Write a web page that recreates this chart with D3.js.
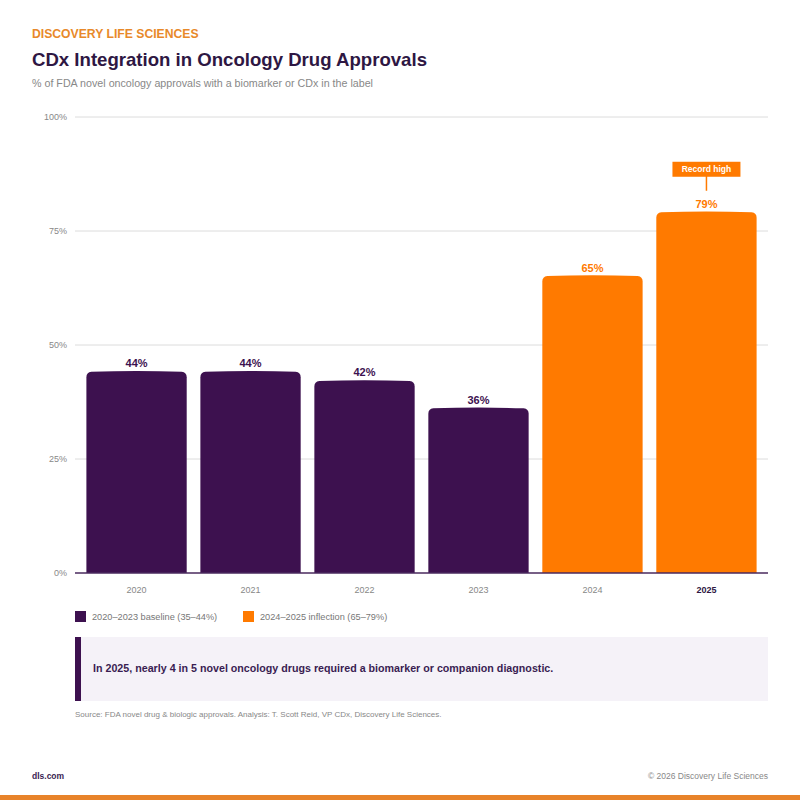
<!DOCTYPE html>
<html>
<head>
<meta charset="utf-8">
<script src="https://cdn.jsdelivr.net/npm/d3@7"></script>
<style>
  body { margin: 0; background: #fff; }
  svg { font-family: "Liberation Sans", Arial, sans-serif; display: block; }
</style>
</head>
<body>
<div id="chart"></div>
<script>
// data
var years = ["2020", "2021", "2022", "2023", "2024", "2025"];
var shares = [44, 44, 42, 36, 65, 79];
var phase = ["baseline", "baseline", "baseline", "baseline", "inflection", "inflection"];
var yTicks = [0, 25, 50, 75, 100];
var legendLabels = ["2020\u20132023 baseline (35\u201344%)", "2024\u20132025 inflection (65\u201379%)"];

var purple = "#3d114f", orange = "#ff7a00";

var W = 800, H = 800;
var svg = d3.select("#chart").append("svg")
    .attr("width", W).attr("height", H);

// header
svg.append("text").attr("x", 32).attr("y", 38)
    .attr("fill", "#e8892a").attr("font-weight", "bold").attr("font-size", 12.2)
    .text("DISCOVERY LIFE SCIENCES");
svg.append("text").attr("x", 32).attr("y", 66)
    .attr("fill", "#2e1743").attr("font-weight", "bold").attr("font-size", 18.6)
    .text("CDx Integration in Oncology Drug Approvals");
svg.append("text").attr("x", 32).attr("y", 87)
    .attr("fill", "#888").attr("font-size", 10.7)
    .text("% of FDA novel oncology approvals with a biomarker or CDx in the label");

// scales
var mLeft = 75, mRight = 768, mTop = 117, mBottom = 573;
var x = d3.scaleBand().domain(years).range([mLeft, mRight])
    .paddingInner(0.12).paddingOuter(0.1);
var y = d3.scaleLinear().domain([0, 100]).range([mBottom, mTop]);
var color = d3.scaleOrdinal().domain(["baseline", "inflection"]).range([purple, orange]);

// gridlines + y labels
var g = svg.append("g");
g.selectAll(".grid").data(yTicks.filter(function (d) { return d > 0; }))
    .enter().append("line")
    .attr("x1", mLeft).attr("x2", mRight)
    .attr("y1", function (d) { return y(d); }).attr("y2", function (d) { return y(d); })
    .attr("stroke", "#dcdcdc").attr("stroke-width", 1);
g.selectAll(".ylab").data(yTicks).enter().append("text")
    .attr("x", 67).attr("y", function (d) { return y(d) + 3; })
    .attr("text-anchor", "end").attr("font-size", 9).attr("fill", "#888")
    .text(function (d) { return d + "%"; });

// bars with rounded tops
var r = 5;
function barPath(d, i) {
    var x0 = x(years[i]), w = x.bandwidth(), y0 = y(d), yb = y(0);
    return "M" + x0 + "," + yb + "V" + (y0 + r) +
        "Q" + x0 + "," + y0 + " " + (x0 + r) + "," + (y0 - 0.5) +
        "Q" + (x0 + w / 2) + "," + (y0 - 2) + " " + (x0 + w - r) + "," + (y0 - 0.5) +
        "Q" + (x0 + w) + "," + y0 + " " + (x0 + w) + "," + (y0 + r) +
        "V" + yb + "Z";
}
g.selectAll(".bar").data(shares).enter().append("path")
    .attr("d", barPath)
    .attr("fill", function (d, i) { return color(phase[i]); });

// value labels
g.selectAll(".val").data(shares).enter().append("text")
    .attr("x", function (d, i) { return x(years[i]) + x.bandwidth() / 2; })
    .attr("y", function (d) { return y(d) - 5; })
    .attr("text-anchor", "middle").attr("font-size", 11).attr("font-weight", "bold")
    .attr("fill", function (d, i) { return phase[i] === "inflection" ? orange : purple; })
    .text(function (d) { return d + "%"; });

// axis line + x labels
g.append("line").attr("x1", mLeft).attr("x2", mRight)
    .attr("y1", y(0)).attr("y2", y(0))
    .attr("stroke", "#4a2a5e").attr("stroke-width", 1.5);
g.selectAll(".xlab").data(years).enter().append("text")
    .attr("x", function (d) { return x(d) + x.bandwidth() / 2; })
    .attr("y", 593).attr("text-anchor", "middle").attr("font-size", 9)
    .attr("font-weight", function (d, i) { return i === years.length - 1 ? "bold" : "normal"; })
    .attr("fill", function (d, i) { return i === years.length - 1 ? "#2e1743" : "#888"; })
    .text(function (d) { return d; });

// record high badge
var lastX = x(years[5]) + x.bandwidth() / 2, lastY = y(shares[5]);
g.append("line").attr("x1", lastX).attr("x2", lastX)
    .attr("y1", lastY - 37).attr("y2", lastY - 22)
    .attr("stroke", orange).attr("stroke-width", 1.5);
g.append("rect").attr("x", lastX - 34).attr("y", lastY - 51)
    .attr("width", 68).attr("height", 15).attr("fill", orange);
g.append("text").attr("x", lastX).attr("y", lastY - 40.5)
    .attr("text-anchor", "middle").attr("font-size", 8.5).attr("font-weight", "bold")
    .attr("fill", "#fff").text("Record high");

// legend
var lg = svg.append("g").attr("transform", "translate(75,611)");
var lx = [0, 168];
legendLabels.forEach(function (t, i) {
    lg.append("rect").attr("x", lx[i]).attr("y", 0).attr("width", 11).attr("height", 11)
        .attr("fill", i === 0 ? purple : orange);
    lg.append("text").attr("x", lx[i] + 17).attr("y", 9).attr("font-size", 9.2)
        .attr("fill", "#777").text(t);
});

// callout
svg.append("rect").attr("x", 75).attr("y", 637).attr("width", mRight - 75).attr("height", 64)
    .attr("fill", "#f5f2f8");
svg.append("rect").attr("x", 75).attr("y", 637).attr("width", 6).attr("height", 64)
    .attr("fill", purple);
svg.append("text").attr("x", 93).attr("y", 672).attr("font-size", 10.7).attr("font-weight", "bold")
    .attr("fill", "#3a1d52")
    .text("In 2025, nearly 4 in 5 novel oncology drugs required a biomarker or companion diagnostic.");

// source
svg.append("text").attr("x", 75).attr("y", 717).attr("font-size", 8).attr("fill", "#888")
    .text("Source: FDA novel drug & biologic approvals.  Analysis: T. Scott Reid, VP CDx, Discovery Life Sciences.");

// footer
svg.append("text").attr("x", 32).attr("y", 779).attr("font-size", 8.5).attr("font-weight", "bold")
    .attr("font-family", "'Liberation Sans Narrow', 'Liberation Sans', sans-serif")
    .attr("fill", "#3a1d52").text("dls.com");
svg.append("text").attr("x", mRight).attr("y", 779).attr("text-anchor", "end").attr("font-size", 8.5)
    .attr("font-family", "'Liberation Sans Narrow', 'Liberation Sans', sans-serif")
    .attr("fill", "#888").text("\u00a9 2026 Discovery Life Sciences");
svg.append("rect").attr("x", 0).attr("y", 795).attr("width", W).attr("height", 5)
    .attr("fill", "#e8832a");
</script>
</body>
</html>
